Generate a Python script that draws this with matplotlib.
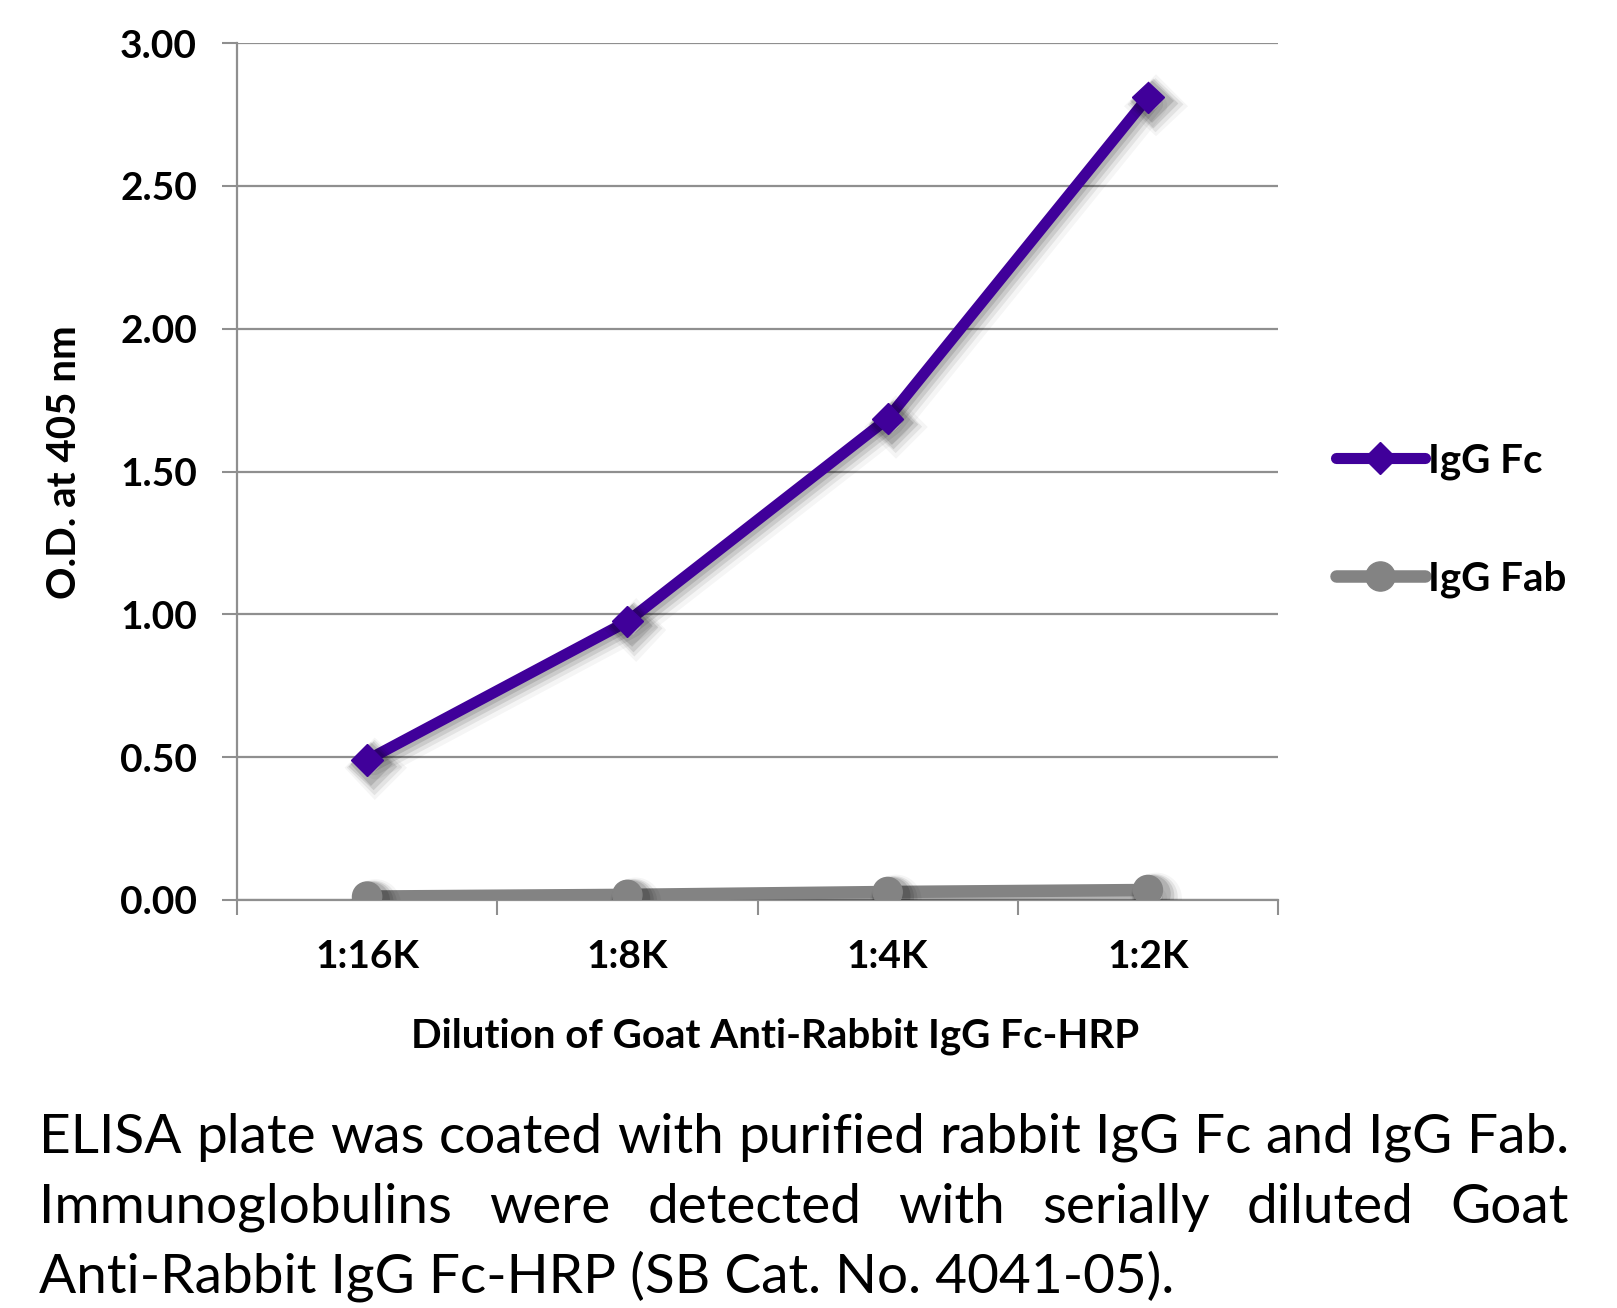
import matplotlib
matplotlib.use("Agg")
from matplotlib import pyplot as plt
from matplotlib import patheffects as pe
from matplotlib.lines import Line2D

# data
dilutions = ["1:16K", "1:8K", "1:4K", "1:2K"]
igg_fc = [0.49, 0.975, 1.685, 2.81]
igg_fab = [0.012, 0.018, 0.028, 0.035]
y_ticks = [0.0, 0.5, 1.0, 1.5, 2.0, 2.5, 3.0]

caption_lines = [
    "ELISA plate was coated with purified rabbit IgG Fc and IgG Fab.",
    "Immunoglobulins were detected with serially diluted Goat",
    "Anti-Rabbit IgG Fc-HRP (SB Cat. No. 4041-05).",
]

PURPLE = "#40009a"
GRAY = "#838383"
GRID = "#8f8f8f"

plt.rcParams['font.family'] = ['Lato', 'DejaVu Sans']

W, H = 1617, 1308
fig = plt.figure(figsize=(W / 100, H / 100), dpi=100)
fig.patch.set_facecolor("white")

# axes box in pixels: x 237..1278, y 43..900 (from top)
ax = fig.add_axes([237 / W, (H - 900) / H, 1041 / W, 857 / H])

def shadow():
    return [
        pe.SimpleLineShadow(offset=(6, -6), shadow_color="k", alpha=0.04, linewidth=16),
        pe.SimpleLineShadow(offset=(5, -5), shadow_color="k", alpha=0.07, linewidth=12),
        pe.SimpleLineShadow(offset=(4, -4), shadow_color="k", alpha=0.10, linewidth=9),
        pe.SimpleLineShadow(offset=(3, -3), shadow_color="k", alpha=0.12, linewidth=6),
        pe.Normal(),
    ]

xs = list(range(len(dilutions)))
ax.plot(xs, igg_fab, color=GRAY, lw=9, marker="o", ms=21,
        solid_capstyle="round", path_effects=shadow(), zorder=3)
ax.plot(xs, igg_fc, color=PURPLE, lw=8, marker="D", ms=16,
        solid_capstyle="round", path_effects=shadow(), zorder=4)

ax.set_xlim(-0.5, len(dilutions) - 0.5)
ax.set_ylim(0, 3.0)

ax.set_yticks(y_ticks)
ax.set_yticklabels(["%.2f" % v for v in y_ticks], fontsize=28, fontweight="bold")
ax.tick_params(axis="y", direction="out", length=10.8, width=1.5, color=GRID, pad=18)
ax.yaxis.grid(True, color=GRID, lw=1.6)
ax.set_axisbelow(True)

ax.set_xticks(xs)
ax.set_xticklabels(dilutions, fontsize=28, fontweight="bold")
ax.set_xticks([x - 0.5 for x in range(len(dilutions) + 1)], minor=True)
ax.tick_params(axis="x", which="major", length=0, pad=28)
ax.tick_params(axis="x", which="minor", direction="out", length=10.8, width=1.5, color=GRID)

for side in ["top", "right"]:
    ax.spines[side].set_visible(False)
for side in ["left", "bottom"]:
    ax.spines[side].set_color(GRID)
    ax.spines[side].set_linewidth(1.6)

ax.set_ylabel("O.D. at 405 nm", fontsize=29, fontweight="bold")
ax.yaxis.set_label_coords((64 - 237) / 1041, (900 - 462) / 857)
ax.yaxis.label.set_va("center")

ax.set_xlabel("Dilution of Goat Anti-Rabbit IgG Fc-HRP", fontsize=29, fontweight="bold")
ax.xaxis.set_label_coords((775 - 237) / 1041, (900 - 1036) / 857)
ax.xaxis.label.set_va("center")

# legend with plain proxy handles (no shadow in reference legend)
handles = [
    Line2D([], [], color=PURPLE, lw=8, marker="D", ms=16, solid_capstyle="round"),
    Line2D([], [], color=GRAY, lw=9, marker="o", ms=21, solid_capstyle="round"),
]
ax.legend(handles, ["IgG Fc", "IgG Fab"], loc="center left",
          bbox_to_anchor=(1336 / W, 1 - 520 / H), bbox_transform=fig.transFigure,
          frameon=False, handlelength=2.2, handletextpad=0.08, labelspacing=2.0,
          borderpad=0, borderaxespad=0, prop={"size": 29, "weight": "bold"})

# caption, justified like the reference
renderer = fig.canvas.get_renderer()
x_left, x_right = 39, 1569
baselines = [1153, 1223, 1292]

probe = fig.text(0, 0, caption_lines[0], fontsize=40)
w0 = probe.get_window_extent(renderer).width
probe.remove()
cap_fs = 40 * (x_right - x_left) / w0

for i, line in enumerate(caption_lines):
    y = 1 - baselines[i] / H
    if i == len(caption_lines) - 1:
        fig.text(x_left / W, y, line, fontsize=cap_fs, va="baseline", ha="left")
        continue
    words = line.split()
    texts = [fig.text(0, y, w, fontsize=cap_fs, va="baseline", ha="left") for w in words]
    widths = [t.get_window_extent(renderer).width for t in texts]
    gap = (x_right - x_left - sum(widths)) / (len(words) - 1)
    x = x_left
    for t, w in zip(texts, widths):
        t.set_x(x / W)
        x += w + gap

fig.savefig("out.png", dpi=100)
